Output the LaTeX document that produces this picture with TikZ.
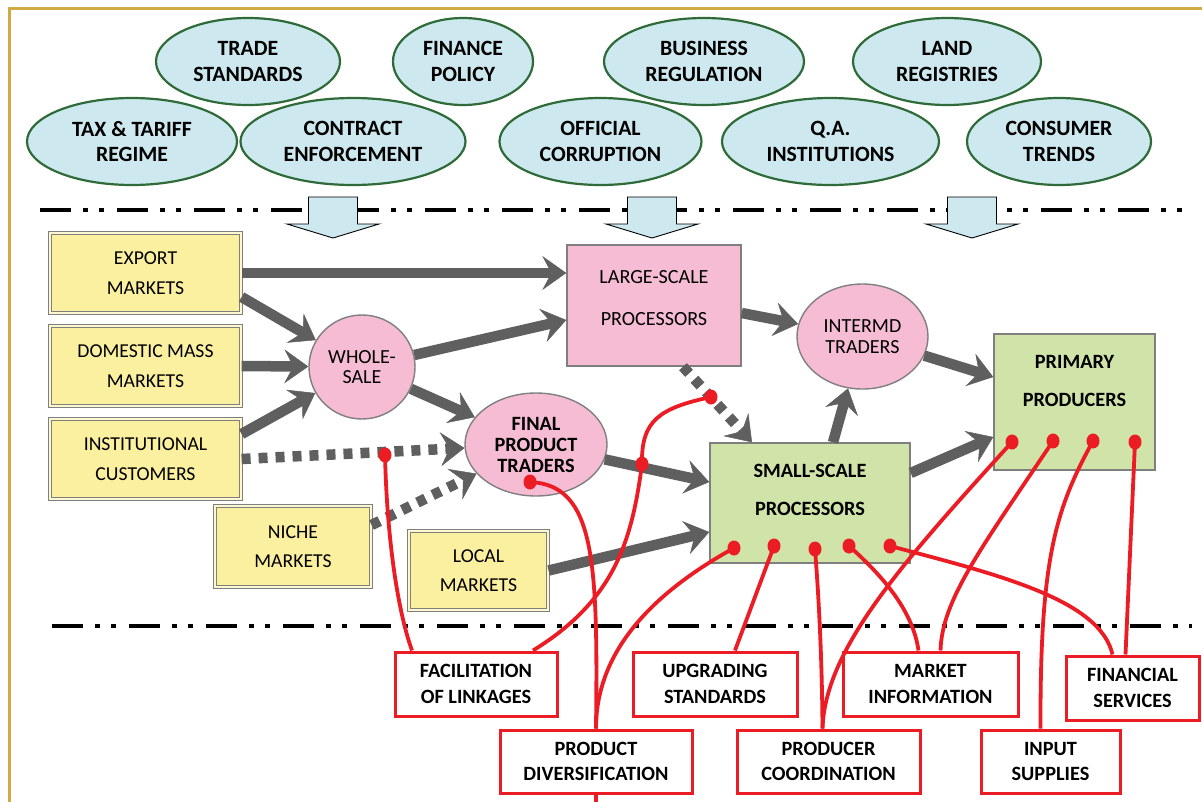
\documentclass[tikz,border=0pt]{standalone}
\usepackage{fontspec}
\setmainfont{Carlito}
\usetikzlibrary{arrows.meta,shapes.geometric,calc}
\definecolor{ellfill}{HTML}{CDE9EF}
\definecolor{ellline}{HTML}{2E6B38}
\definecolor{yelfill}{HTML}{FBF0A0}
\definecolor{boxgray}{HTML}{7F7F7F}
\definecolor{pinkfill}{HTML}{F6BCD4}
\definecolor{greenfill}{HTML}{D0E3A8}
\definecolor{arrgray}{HTML}{5F5F5F}
\definecolor{redline}{HTML}{EC1C24}
\definecolor{goldline}{HTML}{CFAA45}
\tikzset{
  ell/.style={ellipse, draw=ellline, line width=2.2pt, fill=ellfill, inner sep=0pt, align=center,
    font=\fontsize{21.8}{25.5}\selectfont\bfseries},
  ybox/.style={rectangle, draw=boxgray, line width=1.2pt, double=yelfill!50!white, double distance=1.6pt,
    fill=yelfill, inner sep=0pt, align=center, font=\fontsize{19.7}{30.5}\selectfont},
  pshape/.style={draw=boxgray, line width=1.4pt, fill=pinkfill, inner sep=0pt, align=center},
  gshape/.style={rectangle, draw=boxgray, line width=1.4pt, fill=greenfill, inner sep=0pt},
  rbox/.style={rectangle, draw=redline, line width=3pt, fill=white, inner sep=0pt, align=center,
    font=\fontsize{20.3}{26.5}\selectfont\bfseries},
  inlabel/.style={inner sep=0pt, align=center},
  garrow/.style={draw=arrgray, line width=10.5pt,
    -{Stealth[length=24pt,width=34pt,inset=9pt,line width=0.5pt]}},
  gdotted/.style={garrow, dash pattern=on 9pt off 8pt},
  rline/.style={draw=redline, line width=3.8pt},
  rdot/.style={ellipse, fill=redline, minimum width=13pt, minimum height=15pt, inner sep=0pt},
  ddline/.style={line width=4.5pt, dash pattern=on 31pt off 12pt on 5pt off 11pt on 5pt off 13pt},
  barrow/.style={fill=ellfill, draw=black, line width=0.9pt, line join=miter}
}
\begin{document}
\begin{tikzpicture}[x=1pt,y=-1pt]
\useasboundingbox (0,0) rectangle (1202,801);
% frame
\draw[goldline, line width=3pt] (1215,8.5) -- (9.5,8.5) -- (9.5,815);
% separator lines
\draw[ddline] (40,210) -- (1182,210);
\draw[ddline] (52,626) -- (1192,626);
% block arrows
\foreach \c in {333,652,972}{
  \draw[barrow] (\c-24.5,197) -- (\c+24.5,197) -- (\c+24.5,224) -- (\c+46,224) -- (\c,238)
     -- (\c-46,224) -- (\c-24.5,224) -- cycle;
}
% environment ellipses
\node[ell, minimum width=184pt, minimum height=87pt] (trade) at (248,61.5) {TRADE\\STANDARDS};
\node[ell, minimum width=140pt, minimum height=87pt] (fin) at (463,61.5) {FINANCE\\POLICY};
\node[ell, minimum width=200pt, minimum height=87pt] (bus) at (704,61.5) {BUSINESS\\REGULATION};
\node[ell, minimum width=188pt, minimum height=87pt] (land) at (947,61.5) {LAND\\REGISTRIES};
\node[ell, minimum width=210pt, minimum height=87pt] (tax) at (132,141.5) {TAX \& TARIFF\\REGIME};
\node[ell, minimum width=225pt, minimum height=87pt] (contract) at (353,141.5) {CONTRACT\\ENFORCEMENT};
\node[ell, minimum width=202pt, minimum height=87pt] (corr) at (600.5,141.5) {OFFICIAL\\CORRUPTION};
\node[ell, minimum width=217pt, minimum height=87pt] (qa) at (830.5,141.5) {Q.A.\\INSTITUTIONS};
\node[ell, minimum width=184pt, minimum height=87pt] (cons) at (1059,141.5) {CONSUMER\\TRENDS};
% markets
\node[ybox, minimum width=191pt, minimum height=80pt] (ex) at (145.5,273) {EXPORT\\MARKETS};
\node[ybox, minimum width=191pt, minimum height=80pt] (dm) at (145.5,366) {DOMESTIC MASS\\MARKETS};
\node[ybox, minimum width=191pt, minimum height=80pt] (inst) at (145.5,459) {INSTITUTIONAL\\CUSTOMERS};
\node[ybox, minimum width=156pt, minimum height=81pt, font=\fontsize{19.7}{28.5}\selectfont] (niche) at (293,546.5) {NICHE\\MARKETS};
\node[ybox, minimum width=139pt, minimum height=79pt, font=\fontsize{19.7}{28.5}\selectfont] (loc) at (478.5,570.5) {LOCAL\\MARKETS};
% traders and processors
\node[pshape, ellipse, minimum width=106pt, minimum height=104pt, font=\fontsize{20}{20.5}\selectfont] (ws) at (362,367) {WHOLE-\\SALE};
\node[pshape, ellipse, minimum width=142pt, minimum height=103pt, font=\fontsize{20.3}{21}\selectfont\bfseries] (fpt) at (536,444.5) {FINAL\\PRODUCT\\TRADERS};
\node[pshape, rectangle, minimum width=174pt, minimum height=121pt] (lsp) at (654,305.5) {};
\node[inlabel, font=\fontsize{20.1}{42}\selectfont] (lspt) at (654,298) {LARGE-SCALE\\PROCESSORS};
\node[pshape, ellipse, minimum width=131pt, minimum height=105pt, font=\fontsize{20}{20.5}\selectfont] (im) at (862.5,336.5) {INTERMD\\TRADERS};
\node[gshape, minimum width=200pt, minimum height=120pt] (ss) at (810,503) {};
\node[inlabel, font=\fontsize{20.3}{38}\selectfont\bfseries] (sst) at (810,490) {SMALL-SCALE\\PROCESSORS};
\node[gshape, minimum width=161pt, minimum height=136pt] (pp) at (1074.5,402) {};
\node[inlabel, font=\fontsize{20.3}{38}\selectfont\bfseries] (ppt) at (1074.5,381) {PRIMARY\\PRODUCERS};
% gray flows
\draw[garrow] (ex.east) -- (ex.east -| lsp.west);
\draw[garrow] ([yshift=-24pt]ex.east) -- (ws);
\draw[garrow] (dm.east) -- (ws);
\draw[garrow] ([yshift=25pt]inst.east) -- (ws);
\draw[garrow] (ws) -- ([yshift=-14.5pt]lsp.west);
\draw[garrow] (ws) -- (fpt);
\draw[gdotted] (inst.east) -- (fpt);
\draw[gdotted] ([yshift=21.5pt]niche.east) -- (fpt);
\draw[garrow] (fpt) -- ([yshift=21pt]ss.west);
\draw[garrow] (loc.east) -- ([yshift=-29pt]ss.west);
\draw[garrow] ([yshift=-7.5pt]lsp.east) -- (im);
\draw[gdotted] ([xshift=29pt]lsp.south) -- ([xshift=-58pt]ss.north);
\draw[garrow] ([xshift=23pt]ss.north) -- (im);
\draw[garrow] (im) -- ([yshift=25pt]pp.west);
\draw[garrow] ([yshift=30pt]ss.east) -- ([yshift=-35pt]pp.west);
% support functions
\node[rbox, minimum width=162pt, minimum height=64pt] (fac) at (476,684) {FACILITATION\\OF LINKAGES};
\node[rbox, minimum width=164pt, minimum height=64pt] (upg) at (715,684) {UPGRADING\\STANDARDS};
\node[rbox, minimum width=175pt, minimum height=64pt] (mi) at (930.5,684) {MARKET\\INFORMATION};
\node[rbox, minimum width=133pt, minimum height=64pt] (fs) at (1132.5,688) {FINANCIAL\\SERVICES};
\node[rbox, minimum width=192pt, minimum height=63pt, font=\fontsize{20.3}{25}\selectfont\bfseries] (pd) at (596,761.5) {PRODUCT\\DIVERSIFICATION};
\node[rbox, minimum width=183pt, minimum height=63pt, font=\fontsize{20.3}{25}\selectfont\bfseries] (pc) at (828.5,761.5) {PRODUCER\\COORDINATION};
\node[rbox, minimum width=139pt, minimum height=63pt, font=\fontsize{20.3}{25}\selectfont\bfseries] (is) at (1050.5,761.5) {INPUT\\SUPPLIES};
\coordinate (pdend) at ([yshift=-14pt]pd.south);
% red dots
\node[rdot] (d1) at (385,455) {};
\node[rdot] (d2) at (642,464) {};
\node[rdot] (d3) at (711,397) {};
\node[rdot] (d4) at (530,482) {};
\node[rdot] (s1) at (734,548) {};
\node[rdot] (s2) at (774,546) {};
\node[rdot] (s3) at (815,549) {};
\node[rdot] (s4) at (849,546) {};
\node[rdot] (s5) at (890,546) {};
\node[rdot] (p1) at (1012,442) {};
\node[rdot] (p2) at (1053,441) {};
\node[rdot] (p3) at (1093,441) {};
\node[rdot] (p4) at (1135,442) {};
% red links
\draw[rline] (d1.center) .. controls (387,540) and (398,612) .. ([xshift=-64pt]fac.north);
\draw[rline] (d3.center) .. controls (660,408) and (641,420) .. (d2.center)
   .. controls (632,540) and (615,600) .. ([xshift=57pt]fac.north);
\draw[rline] (d4.center) .. controls (595,485) and (598,560) .. (pd.north);
\draw[rline] (pd.south) -- (pdend);
\draw[rline] (s1.center) .. controls (640,600) and (596,660) .. (pd.north);
\draw[rline] (s2.center) -- ([xshift=20pt]upg.north);
\draw[rline] (s3.center) .. controls (819,600) and (822,660) .. ([xshift=-6pt]pc.north);
\draw[rline] (p1.center) .. controls (900,565) and (825,650) .. ([xshift=-6pt]pc.north);
\draw[rline] (s4.center) .. controls (885,578) and (913,612) .. ([xshift=-12pt]mi.north);
\draw[rline] (p2.center) .. controls (980,550) and (942,600) .. ([xshift=10pt]mi.north);
\draw[rline] (p3.center) .. controls (1055,510) and (1040,560) .. ([xshift=-10pt]is.north);
\draw[rline] (p4.center) -- ([xshift=-7pt]fs.north);
\draw[rline] (s5.center) .. controls (1000,575) and (1100,600) .. ([xshift=-20pt]fs.north);
\end{tikzpicture}
\end{document}
